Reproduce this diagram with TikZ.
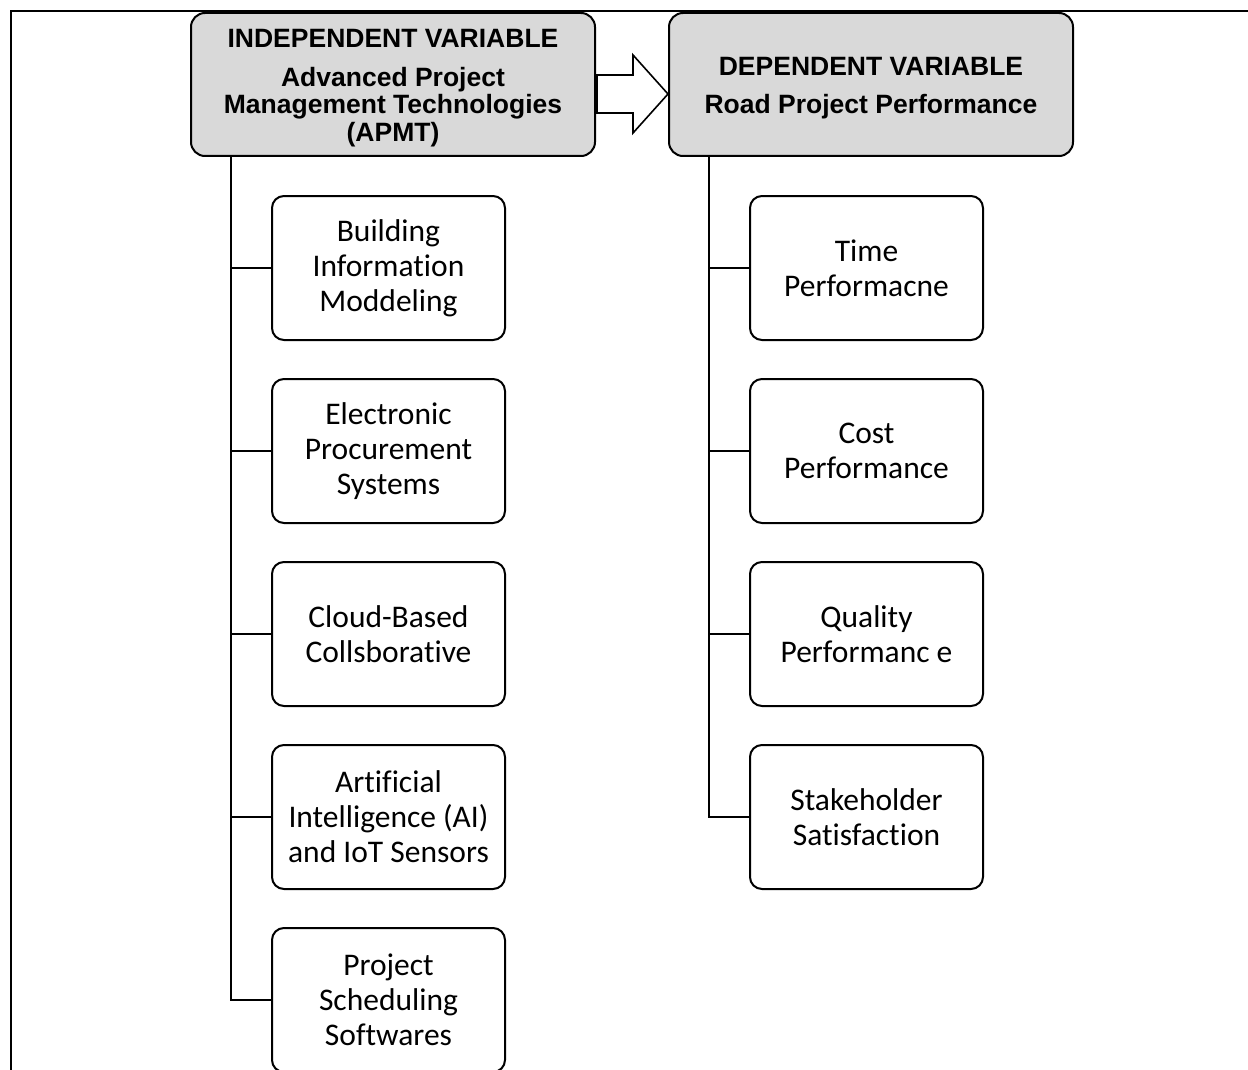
\documentclass[tikz,border=0pt]{standalone}
\usepackage{fontspec}
\setmainfont{Carlito}[Ligatures=NoCommon]
\newfontfamily\headfont{Liberation Sans}
\usepackage{tikz}
\usetikzlibrary{positioning,calc}
\definecolor{headgray}{RGB}{217,217,217}

\begin{document}
\begin{tikzpicture}[x=1pt,y=1pt,
  head/.style={rectangle,rounded corners=14pt,draw=black,line width=2pt,fill=headgray,align=center,minimum width=404pt,minimum height=143pt,font=\headfont\bfseries\fontsize{26.5}{27.5}\selectfont},
  item/.style={rectangle,rounded corners=12pt,draw=black,line width=2pt,fill=white,align=center,minimum width=233pt,minimum height=144pt,font=\fontsize{31.5}{35}\selectfont},
  branch/.style={line width=2pt},
  hollow/.style={draw=black,fill=white,line width=1.6pt,line join=miter}
]
\useasboundingbox (0,0) rectangle (1248,-1070);
\draw[line width=2pt] (1248,-11) -- (11,-11) -- (11,-1072);

% variables
\node[head] (indep) at (393,-84.5) {\rule{0pt}{25pt}INDEPENDENT VARIABLE\\[11.5pt]Advanced Project\\Management Technologies\\(APMT)};
\node[head,right=72pt of indep] (dep) {\rule{0pt}{25pt}DEPENDENT VARIABLE\\[10.5pt]Road Project Performance};
\draw[hollow] ($(indep.east)+(1,9.5)$) -- ($(dep.west)+(-35,9.5)$) -- ++(0,20) -- ($(dep.west)+(0,-9.5)$) -- ($(dep.west)+(-35,-48.5)$) -- ++(0,20) -- ($(indep.east)+(1,-28.5)$) -- cycle;

% indicators of APMT
\coordinate[right=41pt of indep.south west] (ltop);
\node[item,below right=38pt and 40pt of ltop] (bim) {Building\\Information\\Moddeling};
\node[item,below=37pt of bim] (eps) {Electronic\\Procurement\\Systems};
\node[item,below=37pt of eps] (cloud) {Cloud-Based\\Collsborative};
\node[item,below=37pt of cloud] (aiot) {Artificial\\Intelligence (AI)\\and IoT Sensors};
\node[item,below=37pt of aiot] (pss) {Project\\Scheduling\\Softwares};

% indicators of performance
\coordinate[right=41pt of dep.south west] (rtop);
\node[item,below right=38pt and 40pt of rtop] (time) {Time\\Performacne};
\node[item,below=37pt of time] (cost) {Cost\\Performance};
\node[item,below=37pt of cost] (qual) {Quality\\Performanc e};
\node[item,below=37pt of qual] (stake) {Stakeholder\\Satisfaction};

\foreach \n in {bim,eps,cloud,aiot,pss} \draw[branch] (ltop) |- (\n.west);
\foreach \n in {time,cost,qual,stake} \draw[branch] (rtop) |- (\n.west);
\end{tikzpicture}
\end{document}
